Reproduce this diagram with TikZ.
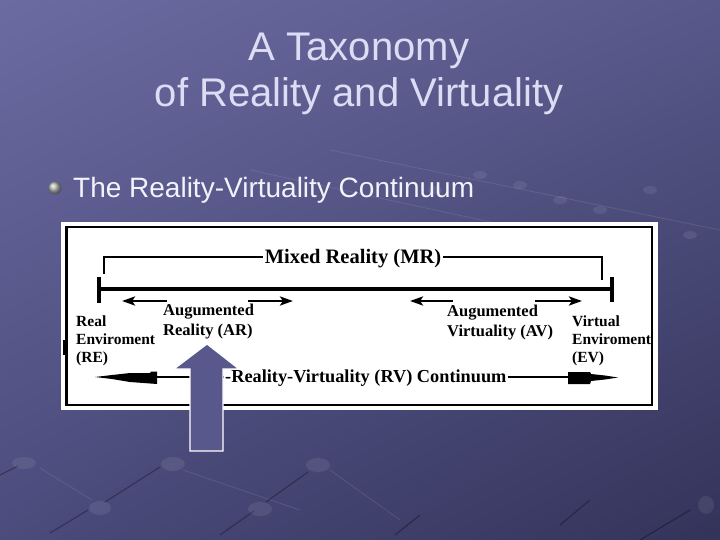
\documentclass[tikz,border=0pt]{standalone}
\usepackage{fontspec}
\setmainfont{Liberation Serif}
\newfontfamily\sansf{Liberation Sans}
\usetikzlibrary{arrows.meta,shadings}
\definecolor{bgUL}{HTML}{6B6BA2}
\definecolor{bgUR}{HTML}{58588A}
\definecolor{bgLL}{HTML}{4B4B7C}
\definecolor{bgLR}{HTML}{33335A}
\definecolor{titlec}{HTML}{DCDCF4}
\definecolor{bullc}{HTML}{F2F2FA}
\definecolor{bigarrow}{HTML}{58588C}
\begin{document}
\begin{tikzpicture}[x=1pt,y=-1pt,
  lblA/.style={font=\bfseries\fontsize{15.5}{18}\selectfont, align=left, inner sep=0pt, anchor=base west},
  lblB/.style={font=\bfseries\fontsize{16.5}{19.5}\selectfont, align=left, inner sep=0pt, anchor=base west},
  mrtxt/.style={font=\bfseries\fontsize{20.5}{24}\selectfont, inner sep=2pt, anchor=base},
  rvtxt/.style={font=\bfseries\fontsize{18.3}{21}\selectfont, inner sep=1pt, anchor=base west},
  thinl/.style={line width=1.8pt, black},
  thickl/.style={line width=4.5pt, black},
  smallarr/.style={line width=2.6pt, black, -{Stealth[length=13pt,width=9pt,inset=3pt]}},
  deco/.style={line width=1.2pt, black, opacity=0.3},
  decol/.style={line width=0.8pt, white, opacity=0.1},
  bead/.style={fill=white, opacity=0.08}
]
\useasboundingbox (0,0) rectangle (720,540);
\shade[upper left=bgUL, upper right=bgUR, lower left=bgLL, lower right=bgLR] (0,0) rectangle (720,540);

% faint background pattern
\draw[decol] (40,468) -- (92,500);
\draw[decol] (183,470) -- (300,510);
\draw[decol] (330,470) -- (400,520);
\draw[decol] (330,150) -- (720,230);
\draw[decol] (250,170) -- (620,250);
\draw[deco] (50,533) -- (88,510);
\draw[deco] (105,502) -- (160,467);
\draw[deco] (220,535) -- (254,511);
\draw[deco] (266,502) -- (308,472);
\draw[deco] (395,535) -- (420,515);
\draw[deco] (560,525) -- (590,500);
\draw[deco] (640,540) -- (690,510);
\draw[deco] (0,475) -- (18,466);
\fill[bead] (100,508) ellipse (11 and 7);
\fill[bead] (173,464) ellipse (12 and 7);
\fill[bead] (260,509) ellipse (12 and 7);
\fill[bead] (318,465) ellipse (12 and 7);
\fill[bead] (24,463) ellipse (12 and 6);
\fill[bead] (706,505) ellipse (8 and 9);
\fill[bead] (435,190) ellipse (7 and 4);
\fill[bead] (480,175) ellipse (7 and 4);
\fill[bead] (520,185) ellipse (7 and 4);
\fill[bead] (560,200) ellipse (7 and 4);
\fill[bead] (600,210) ellipse (7 and 4);
\fill[bead] (650,190) ellipse (7 and 4);
\fill[bead] (690,235) ellipse (7 and 4);

% title
\node[font=\sansf\fontsize{40}{47}\selectfont, text=titlec, anchor=base, inner sep=0pt] (t1) at (359,61) {A Taxonomy};
\node[font=\sansf\fontsize{40}{47}\selectfont, text=titlec, anchor=base, inner sep=0pt] (t2) at (359,107) {of Reality and Virtuality};

% bullet
\shade[ball color=gray!60] (55,188) circle (6.5);
\node[font=\sansf\fontsize{28}{32}\selectfont, text=bullc, anchor=base west, inner sep=0pt] (bt) at (73,198) {The Reality-Virtuality Continuum};

% white panel
\fill[white] (61,222) rectangle (658,410);
\draw[black, line width=2.4pt] (66.5,227) rectangle (652,405);
\draw[black, line width=2.5pt] (64.5,340) -- (64.5,355);

% Mixed reality bracket
\node[mrtxt] (mr) at (353,263) {Mixed Reality (MR)};
\coordinate (mrL) at (104,257);
\coordinate (mrLd) at (104,274);
\coordinate (mrR) at (602,257);
\coordinate (mrRd) at (602,280);
\draw[thinl] (mrLd) -- (mrL) -- (mrL -| mr.west);
\draw[thinl] (mrRd) -- (mrR) -- (mrR -| mr.east);

% main axis
\coordinate (axL) at (99,289);
\coordinate (axR) at (612,289);
\draw[thickl] (axL) -- (axR);
\coordinate (capLt) at (99,277);
\coordinate (capLb) at (99,303);
\coordinate (capRt) at (612,277);
\coordinate (capRb) at (612,302);
\draw[black, line width=4.5pt] (capLt) -- (capLb);
\draw[black, line width=4.5pt] (capRt) -- (capRb);

% AR / AV arrows
\coordinate (ar1s) at (167,301); \coordinate (ar1e) at (122,301);
\coordinate (ar2s) at (248,301); \coordinate (ar2e) at (293,301);
\coordinate (av1s) at (453,301); \coordinate (av1e) at (410,301);
\coordinate (av2s) at (535,301); \coordinate (av2e) at (582,301);
\draw[smallarr] (ar1s) -- (ar1e);
\draw[smallarr] (ar2s) -- (ar2e);
\draw[smallarr] (av1s) -- (av1e);
\draw[smallarr] (av2s) -- (av2e);

% labels (anchor = baseline of last line)
\node[lblA] (re) at (76,362) {Real\\Enviroment\\(RE)};
\node[lblB] (ar) at (163,335) {Augumented\\Reality (AR)};
\node[lblB] (av) at (447,336) {Augumented\\Virtuality (AV)};
\node[lblA] (ev) at (572,362) {Virtual\\Enviroment\\(EV)};

% RV continuum
\node[rvtxt] (rv) at (224,382) {-Reality-Virtuality (RV) Continuum};
\coordinate (rvL) at (157,377);
\coordinate (rvR) at (568,377);
\draw[thinl] (rvL) -- (rv.west |- rvL);
\draw[thinl] (rv.east |- rvR) -- (rvR);
\fill[black] (95,377) -- (112,375) -- (130,373) -- (150,373) -- (151,371.5) -- (157,371.5) -- (157,384) -- (130,382) -- (112,379) -- cycle;
\fill[black] (568,372) -- (590,372) -- (591,374) -- (605,375.5) -- (618,377.5) -- (605,379.5) -- (591,381) -- (590,384) -- (568,384) -- cycle;

% big upward arrow
\filldraw[fill=bigarrow, draw=white, line width=1.2pt] (190,451) -- (190,369) -- (174,369) -- (207,344) -- (239,369) -- (223,369) -- (223,451) -- cycle;
\end{tikzpicture}
\end{document}
